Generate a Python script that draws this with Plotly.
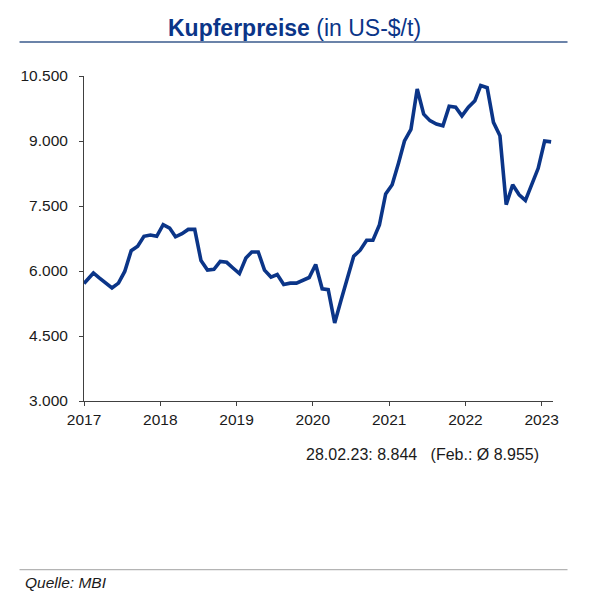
import plotly.graph_objects as go

# --- data (monthly copper prices, US-$/t) ---
years = [2017, 2018, 2019, 2020, 2021, 2022, 2023]
prices_2017 = [5710, 5955, 5840, 5725, 5610, 5720, 5990, 6470, 6570, 6800, 6830, 6800]
prices_2018 = [7070, 6990, 6790, 6860, 6960, 6960, 6240, 6020, 6040, 6220, 6200, 6070]
prices_2019 = [5940, 6300, 6440, 6440, 6020, 5860, 5920, 5690, 5720, 5720, 5780, 5850]
prices_2020 = [6150, 5590, 5570, 4800, 5320, 5820, 6340, 6480, 6710, 6710, 7060, 7780]
prices_2021 = [7990, 8500, 9000, 9270, 10200, 9620, 9470, 9390, 9350, 9800, 9780, 9580]
prices_2022 = [9780, 9930, 10280, 10230, 9430, 9120, 7530, 7990, 7760, 7630, 7990, 8370]
prices_2023 = [9000, 8980]
y_ticks = [3000, 4500, 6000, 7500, 9000, 10500]

series = [prices_2017, prices_2018, prices_2019, prices_2020,
          prices_2021, prices_2022, prices_2023]
dates, values = [], []
for yr, vals in zip(years, series):
    for m, v in enumerate(vals, start=1):
        day = "01" if (yr == years[0] and m == 1) else "15"
        dates.append(f"{yr}-{m:02d}-{day}")
        values.append(v)

# page has a default 8px body margin -> work in screen coords, shift by OFF
OFF = 8
W, H = 583, 592
ML, MT = 78.3 - OFF, 75.7 - OFF
PR, PB = 553.3 - OFF, 400.7 - OFF
MR, MB = W - PR, H - PB
PW, PH = PR - ML, PB - MT

def px(x):
    return (x - OFF - ML) / PW

def py(y):
    return (PB - (y - OFF)) / PH

BLUE = "#0b3588"
FONT = "Liberation Sans, Arial, sans-serif"

fig = go.Figure()
fig.add_trace(go.Scatter(
    x=dates, y=values, mode="lines",
    line=dict(color=BLUE, width=3.6),
    hoverinfo="skip", showlegend=False,
))

fig.update_layout(
    width=W, height=H,
    margin=dict(l=ML, r=MR, t=MT, b=MB, pad=0),
    paper_bgcolor="white", plot_bgcolor="white",
    separators=",.",
    font=dict(family=FONT, size=15.5, color="#1a1a1a"),
    xaxis=dict(
        type="date",
        range=["2017-01-01", "2023-02-24"],
        tickvals=[f"{y}-01-01" for y in years],
        ticktext=[str(y) for y in years],
        showgrid=False, zeroline=False,
        showline=True, linecolor="#404040", linewidth=1,
        ticks="outside", ticklen=4, tickcolor="#404040",
        tickfont=dict(family=FONT, size=15.5, color="#1a1a1a"),
    ),
    yaxis=dict(
        range=[3000, 10500],
        tickvals=y_ticks,
        tickformat=",.0f",
        showgrid=False, zeroline=False,
        showline=True, linecolor="#404040", linewidth=1,
        ticks="outside", ticklen=4, tickcolor="#404040",
        tickfont=dict(family=FONT, size=15.5, color="#1a1a1a"),
        ticklabelstandoff=8,
    ),
)

# title
fig.add_annotation(
    xref="paper", yref="paper", x=px(291.5), y=py(28),
    xanchor="center", yanchor="middle", showarrow=False,
    text="<b>Kupferpreise</b> (in US-$/t)",
    font=dict(family=FONT, size=23, color=BLUE),
)
# title underline
fig.add_shape(type="line", xref="paper", yref="paper",
              x0=px(13), x1=px(568), y0=py(41.7), y1=py(41.7),
              line=dict(color="#3a5a8c", width=1.5))
# note
fig.add_annotation(
    xref="paper", yref="paper", x=px(421), y=py(454),
    xanchor="center", yanchor="middle", showarrow=False,
    text="28.02.23: 8.844 &nbsp; (Feb.: Ø 8.955)",
    font=dict(family=FONT, size=16, color="#1a1a1a"),
)
# footer line
fig.add_shape(type="line", xref="paper", yref="paper",
              x0=px(13), x1=px(568), y0=py(569.3), y1=py(569.3),
              line=dict(color="#b4b4b4", width=1.2))
fig.add_annotation(
    xref="paper", yref="paper", x=px(17), y=py(581.7),
    xanchor="left", yanchor="middle", showarrow=False,
    text="<i>Quelle: MBI</i>",
    font=dict(family=FONT, size=15.5, color="#1a1a1a"),
)

fig.write_html("out.html")
